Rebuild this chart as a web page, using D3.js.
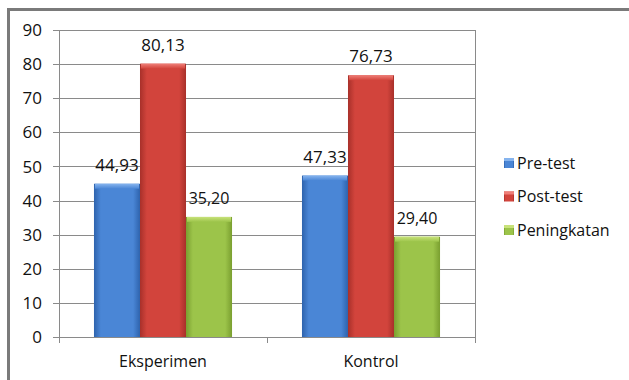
<!DOCTYPE html>
<html><head><meta charset="utf-8">
<script src="https://cdn.jsdelivr.net/npm/d3@7"></script>
<style>body{margin:0;background:#fff}svg{display:block}</style>
</head><body>
<script>
const categories = ["Eksperimen", "Kontrol"];
const seriesNames = ["Pre-test", "Post-test", "Peningkatan"];
const preTest = [44.93, 47.33];
const postTest = [80.13, 76.73];
const peningkatan = [35.20, 29.40];
const valueLabels = [["44,93","80,13","35,20"],["47,33","76,73","29,40"]];
const yTicks = [0,10,20,30,40,50,60,70,80,90];

const W = 629, H = 380;
const svg = d3.select("body").append("svg").attr("width", W).attr("height", H);
const font = "'Open Sans', sans-serif";

const seriesVals = [preTest, postTest, peningkatan];
const colors = [
  {mid:"#4a86d6", edge:"#2e63ad", top:"#86b4ee"},
  {mid:"#d2443c", edge:"#a8302a", top:"#ef7f78"},
  {mid:"#9cc44a", edge:"#7a9f30", top:"#c8e27a"}
];

const defs = svg.append("defs");
colors.forEach((c,i)=>{
  const g = defs.append("linearGradient").attr("id","g"+i).attr("x1","0").attr("x2","1").attr("y1","0").attr("y2","0");
  g.append("stop").attr("offset","0%").attr("stop-color",c.edge);
  g.append("stop").attr("offset","15%").attr("stop-color",c.mid);
  g.append("stop").attr("offset","85%").attr("stop-color",c.mid);
  g.append("stop").attr("offset","100%").attr("stop-color",c.edge);
  const t = defs.append("linearGradient").attr("id","t"+i).attr("x1","0").attr("x2","0").attr("y1","0").attr("y2","1");
  t.append("stop").attr("offset","0%").attr("stop-color",c.top);
  t.append("stop").attr("offset","100%").attr("stop-color",c.mid);
});

// outer frame
svg.append("rect").attr("x",8.5).attr("y",9.5).attr("width",700).attr("height",500)
  .attr("fill","none").attr("stroke","#7a7a7a").attr("stroke-width",3);

const L = 59, R = 475, T = 30, B = 337;
const x0 = d3.scaleBand().domain(categories).range([L, R]).paddingInner(0).paddingOuter(0);
const x1 = d3.scaleBand().domain(seriesNames).range([0, x0.bandwidth()]).paddingInner(0).paddingOuter(0.76);
const y = d3.scaleLinear().domain([0, 90]).range([B, T]);

// gridlines
svg.append("g").selectAll("line").data(yTicks).join("line")
  .attr("x1", L-6).attr("x2", R).attr("y1", d=>Math.round(y(d))+0.5).attr("y2", d=>Math.round(y(d))+0.5)
  .attr("stroke","#8a8a8a").attr("stroke-width",1);
svg.append("line").attr("x1",L+0.5).attr("x2",L+0.5).attr("y1",T).attr("y2",B+6).attr("stroke","#8a8a8a");
svg.append("line").attr("x1",R+0.5).attr("x2",R+0.5).attr("y1",T).attr("y2",B+6).attr("stroke","#8a8a8a");
svg.append("line").attr("x1",x0("Kontrol")+0.5).attr("x2",x0("Kontrol")+0.5).attr("y1",B).attr("y2",B+6).attr("stroke","#8a8a8a");

// y labels
svg.append("g").selectAll("text").data(yTicks).join("text")
  .attr("x", 42).attr("y", d=>y(d)).attr("dy","0.36em").attr("text-anchor","end")
  .attr("font-family",font).attr("font-size",17).attr("fill","#111").text(d=>d);

// bars
categories.forEach((cat, ci)=>{
  seriesNames.forEach((s, si)=>{
    const v = seriesVals[si][ci];
    const bx = x0(cat) + x1(s), bw = x1.bandwidth();
    const by = y(v), bh = y(0) - y(v);
    svg.append("rect").attr("x",bx).attr("y",by).attr("width",bw).attr("height",bh).attr("fill",`url(#g${si})`);
    svg.append("rect").attr("x",bx+1).attr("y",by).attr("width",bw-2).attr("height",5).attr("fill",`url(#t${si})`);
    svg.append("text").attr("x",bx+bw/2).attr("y",by-13).attr("text-anchor","middle")
      .attr("font-family",font).attr("font-size", si===2?16:17).attr("fill","#111").text(valueLabels[ci][si]);
  });
});

// x labels
svg.append("g").selectAll("text").data(categories).join("text")
  .attr("x", d=>x0(d)+x0.bandwidth()/2).attr("y", 367).attr("text-anchor","middle")
  .attr("font-family",font).attr("font-size",16).attr("fill","#111").text(d=>d);

// legend
seriesNames.forEach((s,i)=>{
  const ly = 163 + i*33.5;
  svg.append("rect").attr("x",504).attr("y",ly-5).attr("width",10).attr("height",10).attr("fill",`url(#g${i})`);
  svg.append("rect").attr("x",504).attr("y",ly-5).attr("width",10).attr("height",3).attr("fill",colors[i].top);
  svg.append("text").attr("x",517).attr("y",ly).attr("dy","0.36em")
    .attr("font-family",font).attr("font-size",16).attr("fill","#111").text(s);
});
</script>
</body></html>
